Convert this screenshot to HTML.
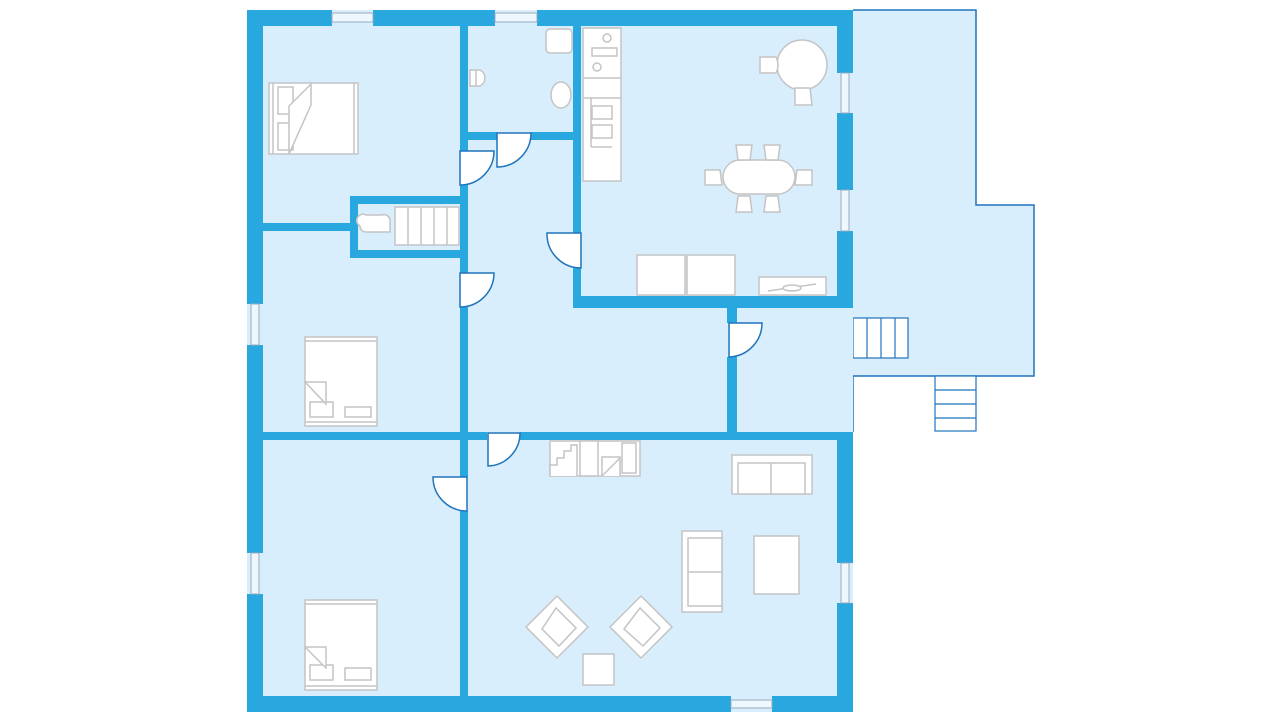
<!DOCTYPE html>
<html><head><meta charset="utf-8"><style>html,body{margin:0;padding:0;background:#fff}svg{display:block}</style></head>
<body>
<svg width="1280" height="720" viewBox="0 0 1280 720" xmlns="http://www.w3.org/2000/svg">
<!-- terrace -->
<path d="M853,10 L976,10 L976,205 L1034,205 L1034,376 L853,376 Z" fill="#d9eefc"/>
<path d="M853,10 L976,10 L976,205 L1034,205 L1034,376 L853,376 L853,432" fill="none" stroke="#1f74bb" stroke-width="1.5"/>
<g fill="#fff" stroke="#1f74bb" stroke-width="1.2">
<rect x="935" y="376" width="41" height="55"/>
<line x1="935" y1="390" x2="976" y2="390"/><line x1="935" y1="404" x2="976" y2="404"/><line x1="935" y1="418" x2="976" y2="418"/>
<rect x="853" y="318" width="55" height="40"/>
<line x1="867" y1="318" x2="867" y2="358"/><line x1="881" y1="318" x2="881" y2="358"/><line x1="895" y1="318" x2="895" y2="358"/>
</g>
<!-- house floor -->
<rect x="247" y="10" width="606" height="702" fill="#d9eefc"/>
<!-- walls -->
<g fill="#29a8e0">
<rect x="247" y="10" width="85" height="16"/><rect x="373" y="10" width="122" height="16"/><rect x="537" y="10" width="316" height="16"/>
<rect x="247" y="10" width="16" height="294"/><rect x="247" y="345" width="16" height="208"/><rect x="247" y="594" width="16" height="118"/>
<rect x="247" y="696" width="484" height="16"/><rect x="772" y="696" width="81" height="16"/>
<rect x="837" y="10" width="16" height="63"/><rect x="837" y="113" width="16" height="77"/><rect x="837" y="231" width="16" height="77"/>
<rect x="837" y="432" width="16" height="131"/><rect x="837" y="603" width="16" height="109"/>
<rect x="573" y="296" width="280" height="12"/>
<rect x="573" y="26" width="8" height="207"/><rect x="573" y="268" width="8" height="36"/>
<rect x="468" y="132" width="29" height="8"/><rect x="531" y="132" width="50" height="8"/>
<rect x="460" y="26" width="8" height="125"/><rect x="460" y="185" width="8" height="88"/><rect x="460" y="307" width="8" height="170"/><rect x="460" y="511" width="8" height="185"/>
<rect x="263" y="223" width="87" height="8"/>
<rect x="350" y="196" width="118" height="8"/><rect x="350" y="250" width="118" height="8"/><rect x="350" y="196" width="8" height="62"/>
<rect x="263" y="432" width="224" height="8"/><rect x="520" y="432" width="333" height="8"/>
<rect x="727" y="304" width="10" height="19"/><rect x="727" y="357" width="10" height="83"/>
</g>
<!-- windows -->
<g fill="#eef7fd" stroke="#9ab" stroke-width="1">
<rect x="332" y="13" width="41" height="9"/><rect x="495" y="13" width="42" height="9"/>
<rect x="251" y="304" width="8" height="41"/><rect x="251" y="553" width="8" height="41"/>
<rect x="841" y="73" width="8" height="40"/><rect x="841" y="190" width="8" height="41"/><rect x="841" y="563" width="8" height="40"/>
<rect x="731" y="700" width="41" height="8"/>
</g>
<!-- doors -->
<g fill="#fff" stroke="#1f74bb" stroke-width="1.5">
<path d="M497,133 L497,167 A34,34 0 0 0 531,133 Z"/>
<path d="M460,151 L494,151 A34,34 0 0 1 460,185 Z"/>
<path d="M581,233 L547,233 A34,34 0 0 0 581,268 Z"/>
<path d="M460,273 L494,273 A34,34 0 0 1 460,307 Z"/>
<path d="M729,323 L762,323 A34,34 0 0 1 729,357 Z"/>
<path d="M488,433 L488,466 A33,33 0 0 0 520,433 Z"/>
<path d="M467,477 L433,477 A34,34 0 0 0 467,511 Z"/>
</g>
<!-- furniture -->
<g fill="#fff" stroke="#c4c4c4" stroke-width="1.5">
<rect x="269" y="83" width="89" height="71"/>
<line x1="273" y1="83" x2="273" y2="154"/><line x1="354" y1="83" x2="354" y2="154"/>
<rect x="278" y="87" width="15" height="27"/><rect x="278" y="123" width="15" height="27"/>
<path d="M289,154 L289,106 L311,84 L311,105 Z"/>
<rect x="305" y="337" width="72" height="89"/>
<line x1="305" y1="341" x2="377" y2="341"/><line x1="305" y1="422" x2="377" y2="422"/>
<rect x="310" y="402" width="23" height="15"/><rect x="345" y="407" width="26" height="10"/>
<path d="M305,382 L326,382 L326,404 Z"/>
<rect x="305" y="600" width="72" height="90"/>
<line x1="305" y1="604" x2="377" y2="604"/><line x1="305" y1="686" x2="377" y2="686"/>
<rect x="310" y="665" width="23" height="15"/><rect x="345" y="668" width="26" height="12"/>
<path d="M305,647 L326,647 L326,668 Z"/>
<rect x="546" y="29" width="26" height="24" rx="4"/>
<path d="M470,70 L480,70 A9,9 0 0 1 480,86 L470,86 Z"/><line x1="476" y1="70" x2="476" y2="86"/>
<ellipse cx="561" cy="95" rx="10" ry="13"/>
<path d="M366,215 L382,215 A6,6 0 0 1 390,221 L390,232 L366,232 A6,6 0 0 1 360,226 A6,6 0 0 1 366,215 Z"/>
<rect x="395" y="207" width="64" height="38"/>
<line x1="408" y1="207" x2="408" y2="245"/><line x1="421" y1="207" x2="421" y2="245"/><line x1="434" y1="207" x2="434" y2="245"/><line x1="447" y1="207" x2="447" y2="245"/>
<rect x="583" y="28" width="38" height="153"/>
<line x1="583" y1="78" x2="621" y2="78"/><line x1="583" y1="98" x2="621" y2="98"/>
<rect x="592" y="48" width="25" height="8"/><circle cx="607" cy="38" r="4"/><circle cx="597" cy="67" r="4"/>
<rect x="592" y="106" width="20" height="13"/><rect x="592" y="125" width="20" height="13"/>
<line x1="591" y1="98" x2="591" y2="147"/><line x1="591" y1="147" x2="612" y2="147"/>
<circle cx="802" cy="65" r="25"/>
<path d="M760,57 L776,57 Q780,65 776,73 L760,73 Z"/><path d="M795,88 L810,88 L812,105 L795,105 Z"/>
<rect x="723" y="160" width="72" height="34" rx="17"/>
<path d="M736,145 L752,145 L750,160 L738,160 Z"/><path d="M764,145 L780,145 L778,160 L766,160 Z"/>
<path d="M736,212 L752,212 L750,196 L738,196 Z"/><path d="M764,212 L780,212 L778,196 L766,196 Z"/>
<path d="M705,170 L720,170 L722,185 L705,185 Z"/><path d="M812,170 L797,170 L795,185 L812,185 Z"/>
<rect x="637" y="255" width="48" height="40"/><rect x="687" y="255" width="48" height="40"/>
<rect x="759" y="277" width="67" height="18"/><line x1="768" y1="291" x2="816" y2="284"/><ellipse cx="792" cy="288" rx="9" ry="3"/>
<rect x="550" y="441" width="90" height="35"/>
<path d="M550,476 L550,465 L557,465 L557,458 L564,458 L564,451 L571,451 L571,445 L577,445 L577,476"/>
<rect x="580" y="441" width="18" height="35"/>
<path d="M602,476 L602,457 L620,457 L620,476 M602,476 L620,458"/>
<rect x="622" y="443" width="14" height="30"/>
<rect x="732" y="455" width="80" height="39"/><rect x="738" y="463" width="67" height="31"/><line x1="771" y1="463" x2="771" y2="494"/>
<rect x="682" y="531" width="40" height="81"/><rect x="688" y="538" width="34" height="68"/><line x1="688" y1="572" x2="722" y2="572"/>
<rect x="754" y="536" width="45" height="58"/>
<path d="M557,596 L588,627 L557,658 L526,627 Z"/><path d="M556,608 L576,628 L559,646 L542,629 Z"/>
<path d="M641,596 L672,627 L641,658 L610,627 Z"/><path d="M640,608 L660,628 L643,646 L624,629 Z"/>
<rect x="583" y="654" width="31" height="31"/>
</g>
</svg>
</body></html>
